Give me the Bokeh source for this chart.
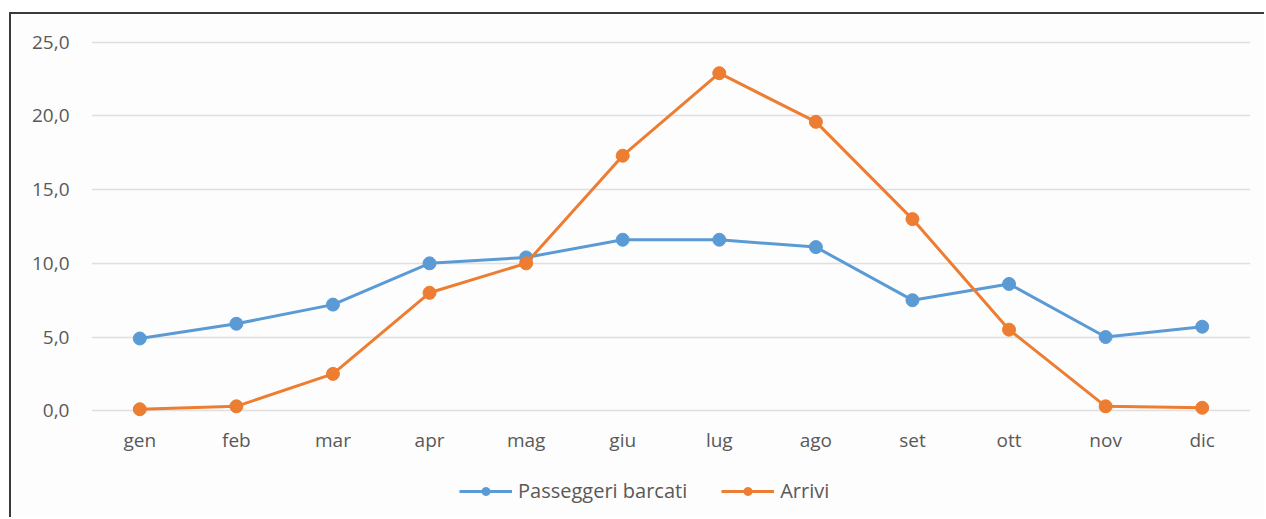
from bokeh.plotting import figure
from bokeh.models import (ColumnDataSource, FixedTicker, CustomJSTickFormatter,
                          Legend, LegendItem)
from bokeh.core.properties import value
from bokeh.embed import file_html
from bokeh.resources import INLINE

months = ["gen", "feb", "mar", "apr", "mag", "giu", "lug", "ago", "set", "ott", "nov", "dic"]
passeggeri_barcati = [4.9, 5.9, 7.2, 10.0, 10.4, 11.6, 11.6, 11.1, 7.5, 8.6, 5.0, 5.7]
arrivi = [0.1, 0.3, 2.5, 8.0, 10.0, 17.3, 22.9, 19.6, 13.0, 5.5, 0.3, 0.2]
y_ticks = [0, 5, 10, 15, 20, 25]

BLUE = "#5B9BD5"
ORANGE = "#ED7D31"
TEXT = "#595959"
FONT = "Open Sans"
FS = "19px"

src = ColumnDataSource(dict(m=months, a=passeggeri_barcati, b=arrivi,
                            lab_y=[-2.0] * len(months)))

p = figure(x_range=months, y_range=(-7.38, 26), width=1255, height=505,
           output_backend="svg", toolbar_location=None,
           min_border_left=80, min_border_right=16, min_border_top=13,
           min_border_bottom=0)
p.styles = {"margin-left": "9px", "margin-top": "12px",
            "border-left": "2px solid #3a3a3a", "border-top": "2px solid #3a3a3a"}

p.outline_line_color = None
p.background_fill_color = "#fdfdfd"
p.border_fill_color = "#fdfdfd"

p.xgrid.grid_line_color = None
p.ygrid.grid_line_color = "#e0e0e0"
p.ygrid.grid_line_width = 1.5
p.yaxis.ticker = FixedTicker(ticks=y_ticks)
p.yaxis.formatter = CustomJSTickFormatter(code="return tick.toFixed(1).replace('.', ',');")
p.yaxis.axis_line_color = None
p.yaxis.major_tick_line_color = None
p.yaxis.minor_tick_line_color = None
p.yaxis.major_label_text_color = TEXT
p.yaxis.major_label_text_font = FONT
p.yaxis.major_label_text_font_size = FS
p.yaxis.major_label_standoff = 16
p.xaxis.visible = False

# month labels of the category axis, placed under the 0 line
p.text("m", "lab_y", text="m", source=src, text_align="center",
       text_baseline="middle", text_color=TEXT, text_font=value(FONT),
       text_font_size=FS)

l1 = p.line("m", "a", source=src, line_color=BLUE, line_width=3)
s1 = p.scatter("m", "a", source=src, size=13, fill_color=BLUE, line_color=BLUE)
l2 = p.line("m", "b", source=src, line_color=ORANGE, line_width=3)
s2 = p.scatter("m", "b", source=src, size=13, fill_color=ORANGE, line_color=ORANGE)

legend = Legend(items=[LegendItem(label="Passeggeri barcati", renderers=[l1, s1]),
                       LegendItem(label="Arrivi", renderers=[l2, s2])],
                orientation="horizontal", location=(368, 15),
                label_text_font=FONT, label_text_font_size="20px",
                label_text_color=TEXT, glyph_width=53, label_standoff=6,
                spacing=34, padding=5, margin=0,
                border_line_color=None, background_fill_alpha=0)
p.add_layout(legend)

open("out.html", "w").write(file_html(p, INLINE))
